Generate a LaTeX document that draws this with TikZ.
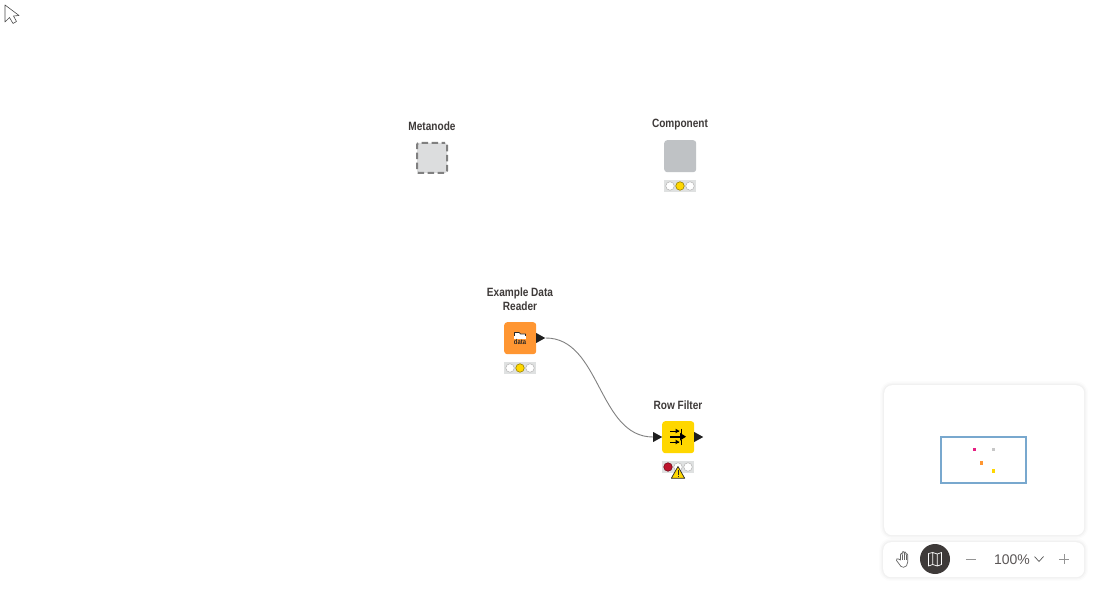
\documentclass[tikz,border=0pt]{standalone}
\usepackage{fontspec}
\setmainfont{Liberation Sans}
\newfontfamily\labfont[FakeStretch=0.84]{Liberation Sans}
\usetikzlibrary{shapes.geometric}
\definecolor{lab}{HTML}{3E3A39}
\definecolor{tlbg}{HTML}{DFE1E1}
\definecolor{gold}{HTML}{FFD700}
\definecolor{dark}{HTML}{3E3A39}
\definecolor{miniblue}{HTML}{78A8CE}
\definecolor{orangeN}{HTML}{FF9632}
\definecolor{pinkN}{HTML}{E61E82}
\definecolor{grayN}{HTML}{BFC2C5}
\definecolor{redN}{HTML}{BE142D}
\definecolor{metaF}{HTML}{DCDDDE}
\tikzset{
 lbl/.style={font=\labfont\bfseries\fontsize{12}{14}\selectfont,text=lab,align=center,inner sep=0pt},
 nbox/.style={minimum size=32pt,inner sep=0pt,rounded corners=3pt,anchor=north west},
 tl/.style={minimum width=32pt,minimum height=12pt,inner sep=0pt,fill=tlbg,anchor=north west},
 lamp/.style={circle,draw=#1!60!black,line width=.6pt,minimum size=8.5pt,inner sep=0pt},
 lampoff/.style={circle,fill=white,draw=gray!60,line width=.5pt,minimum size=8.5pt,inner sep=0pt},
 port/.style={isosceles triangle,isosceles triangle stretches,shape border rotate=0,fill=black!88,inner sep=0pt,minimum width=10pt,minimum height=9pt,anchor=west},
 panel/.style={fill=white,rounded corners=8pt,inner sep=0pt,anchor=north west,
   preaction={draw=black,draw opacity=.012,line width=8pt},
   preaction={draw=black,draw opacity=.018,line width=5pt},
   preaction={draw=black,draw opacity=.025,line width=2.5pt}},
 tool/.style={font=\fontsize{14}{16}\selectfont,text=dark!85,inner sep=0pt},
 dot/.style={minimum size=3.4pt,inner sep=0pt,fill=#1}
}
\begin{document}
\begin{tikzpicture}[x=1pt,y=-1pt]
\useasboundingbox (0,0) rectangle (1100,593);
\fill[white] (0,0) rectangle (1100,593);
% cursor
\draw[line width=.6pt,black!70,fill=white,line join=round] (5,5) -- (5,22) -- (9.5,17.5) -- (13,23.5) -- (16.5,21.5) -- (13.5,16) -- (19,15.5) -- cycle;
% Metanode
\node[lbl] (metaL) at (432,126.5) {Metanode};
\node[minimum size=30pt,inner sep=0pt,fill=metaF,draw=black!50,line width=2pt,dash pattern=on 6.5pt off 3.5pt,dash phase=3.2pt,rounded corners=2pt] (meta) at (432,158) {};
% Component
\node[lbl] (compL) at (680,124.8) {Component};
\node[nbox,fill=grayN] (comp) at (664,140) {};
\node[tl] (compT) at (664,180) {};
\node[lampoff] (c1) at (670,186) {};
\node[lamp=gold,fill=gold] (c2) at (680,186) {};
\node[lampoff] (c3) at (690,186) {};
% Example Data Reader
\node[lbl] (edrL) at (520,298.8) {Example Data\\Reader};
\node[nbox,fill=orangeN] (edr) at (504,322) {};
\node[tl] (edrT) at (504,362) {};
\node[lampoff] (e1) at (510,368) {};
\node[lamp=gold,fill=gold] (e2) at (520,368) {};
\node[lampoff] (e3) at (530,368) {};
\node[port] (edrOut) at (536,338) {};
% folder icon
\draw[black!85,fill=white,line width=.7pt,line join=round] (514.5,338.5) -- (514.5,332.5) -- (519,332.5) -- (520.5,334) -- (525.5,334) -- (525.5,338.5);
\fill[white] (514,336) rectangle (526,339);
\node[inner sep=0pt,font=\labfont\bfseries\fontsize{7}{7}\selectfont,text=black!85] (edrIcon) at (520,342.3) {data};
% Row Filter
\node[lbl] (rfL) at (678,405.3) {Row Filter};
\node[nbox,fill=gold] (rf) at (662,421) {};
\node[tl] (rfT) at (662,461) {};
\node[lamp=redN,fill=redN] (r1) at (668,467) {};
\node[lampoff] (r2) at (678,467) {};
\node[lampoff] (r3) at (688,467) {};
\node[port] (rfIn) at (653,437) {};
\node[port] (rfOut) at (694,437) {};
% row filter icon
\draw[black,line width=1pt] (670,431) -- (679,431) (681,428.5) -- (681,433.5);
\draw[black,line width=1pt] (670,442) -- (679,442) (681,439.5) -- (681,444.5);
\fill[black] (679.5,431) -- (675.5,428.7) -- (675.5,433.3) -- cycle;
\fill[black] (679.5,442) -- (675.5,439.7) -- (675.5,444.3) -- cycle;
\draw[black,line width=1.6pt] (670,436.7) -- (682,436.7);
\fill[black] (686,436.7) -- (680,432.8) -- (680,440.6) -- cycle;
% warning
\draw[black!85,fill=gold,line width=.7pt,line join=round] (678,466.5) -- (684.7,478.3) -- (671.3,478.3) -- cycle;
\draw[black!85,line width=.9pt] (678,470.3) -- (678,474.7) (678,475.6) -- (678,476.8);
% connector
\draw[black!50,line width=.9pt] (edrOut.east) .. controls +(55,0) and +(-55,0) .. (rfIn.west);
% minimap
\node[panel,minimum width=200pt,minimum height=150pt] (mapP) at (884,385) {};
\node[draw=miniblue,line width=1.5pt,outer sep=0pt,minimum width=85pt,minimum height=46pt,inner sep=0pt,anchor=north west] (view) at (941,437) {};
\node[dot=pinkN] (d1) at (974.5,449.5) {};
\node[dot=black!22] (d2) at (993.5,449.5) {};
\node[dot=orangeN] (d3) at (981.5,463) {};
\node[dot=gold] (d4) at (993.5,471) {};
% toolbar
\node[panel,minimum width=201pt,minimum height=35pt] (bar) at (883,542) {};
\node[circle,fill=dark,minimum size=30pt,inner sep=0pt] (mapB) at (935,559) {};
\draw[white,line width=.7pt,line join=round] (928.5,553.5) -- (932.7,552.5) -- (937.3,554) -- (941.5,552.5) -- (941.5,564.5) -- (937.3,566) -- (932.7,564.5) -- (928.5,566) -- cycle (932.7,552.5) -- (932.7,564.5) (937.3,554) -- (937.3,566);
% hand
\draw[black!60,line width=.7pt,line join=round,line cap=round,fill=white] (900.5,560) -- (900.5,554.5) .. controls (900.5,553) and (902,553) .. (902.2,554.5) -- (902.2,552.5) .. controls (902.3,551) and (903.9,551) .. (904,552.5) -- (904,553) .. controls (904.2,551.5) and (905.8,551.7) .. (905.9,553) -- (905.9,554.5) .. controls (906.1,553.3) and (907.7,553.5) .. (907.7,555) -- (907.7,562) .. controls (907.7,565) and (906,567.3) .. (903.5,567.3) .. controls (901.3,567.3) and (900.5,566) .. (899.5,564.5) -- (896.5,560.5) .. controls (895.8,559) and (897.5,558) .. (898.5,559) -- cycle;
\draw[black!60,line width=.5pt] (902.2,554.5) -- (902.2,560) (904,553) -- (904,560) (905.9,554.5) -- (905.9,560);
\node[inner sep=0pt,minimum width=10pt,minimum height=0pt] (minus) at (971,559) {};
\draw[black!42,line width=1pt] (minus.west) -- (minus.east);
\node[tool] (zoomT) at (1012,559.5) {100\%};
\draw[black!65,line width=.7pt] (1034.5,556.5) -- (1039,561.5) -- (1043.5,556.5);
\node[inner sep=0pt,minimum size=9pt] (plus) at (1064,559) {};
\draw[black!42,line width=1pt] (plus.west) -- (plus.east) (plus.north) -- (plus.south);
\end{tikzpicture}
\end{document}
